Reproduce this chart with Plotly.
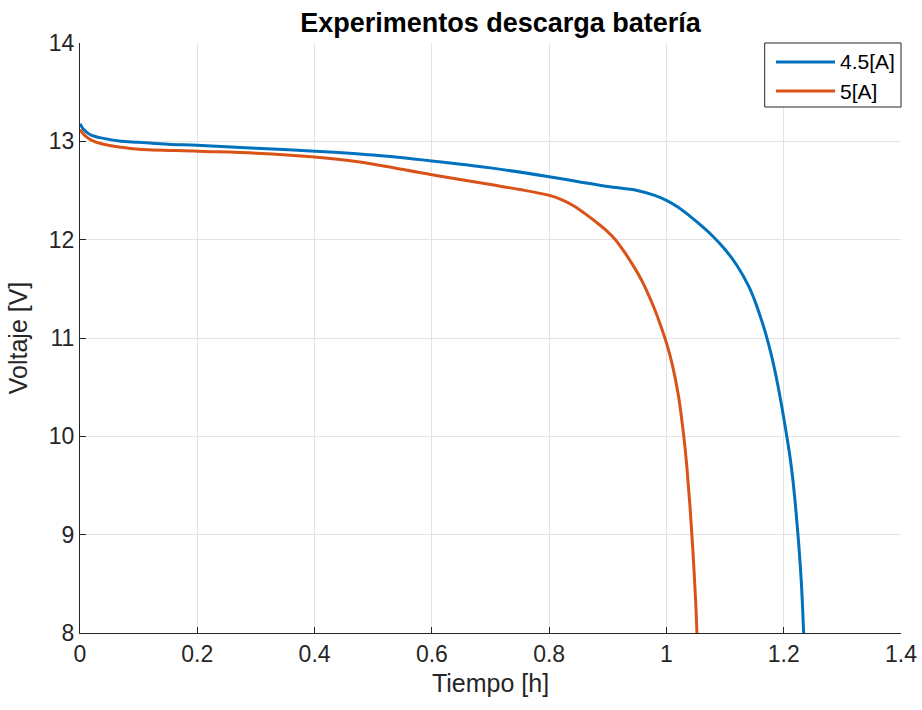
import plotly.graph_objects as go

# Discharge curves: time [h] vs voltage [V]
t_45 = [0, 0.005, 0.01, 0.02, 0.04, 0.07, 0.1, 0.15, 0.2, 0.3, 0.4, 0.5, 0.6, 0.7,
        0.8, 0.85, 0.9, 0.95, 0.98, 1.0, 1.02, 1.04, 1.06, 1.08, 1.1, 1.12, 1.14,
        1.15, 1.16, 1.17, 1.18, 1.19, 1.2, 1.21, 1.215, 1.22, 1.225, 1.23, 1.234]
v_45 = [13.18, 13.13, 13.1, 13.06, 13.03, 13.0, 12.99, 12.97, 12.96, 12.93, 12.90,
        12.86, 12.80, 12.73, 12.64, 12.59, 12.54, 12.50, 12.45, 12.40, 12.33, 12.24,
        12.14, 12.03, 11.90, 11.74, 11.53, 11.39, 11.22, 11.03, 10.80, 10.52, 10.19,
        9.82, 9.59, 9.30, 8.95, 8.52, 8.0]

t_5 = [0, 0.005, 0.01, 0.02, 0.04, 0.07, 0.1, 0.2, 0.3, 0.4, 0.477, 0.6, 0.7, 0.75,
       0.8, 0.82, 0.84, 0.86, 0.88, 0.9, 0.913, 0.93, 0.95, 0.96, 0.97, 0.98, 0.99,
       1.0, 1.01, 1.02, 1.03, 1.035, 1.04, 1.045, 1.05, 1.052]
v_5 = [13.12, 13.08, 13.05, 13.01, 12.97, 12.94, 12.92, 12.90, 12.88, 12.84, 12.79,
       12.66, 12.56, 12.51, 12.45, 12.41, 12.35, 12.27, 12.18, 12.08, 12.0, 11.86,
       11.67, 11.56, 11.43, 11.29, 11.13, 10.95, 10.73, 10.43, 9.98, 9.68, 9.30,
       8.85, 8.30, 8.0]

series_names = ["4.5[A]", "5[A]"]
series_colors = ["#0072BD", "#D95319"]

x_ticks = [0, 0.2, 0.4, 0.6, 0.8, 1, 1.2, 1.4]
x_tick_text = ["0", "0.2", "0.4", "0.6", "0.8", "1", "1.2", "1.4"]
y_ticks = [8, 9, 10, 11, 12, 13, 14]

FONT = "Liberation Sans, Arial, Helvetica, sans-serif"
AXIS_COLOR = "#262626"
GRID_COLOR = "#e3e3e3"

fig = go.Figure()
for (tx, vy), name, color in zip([(t_45, v_45), (t_5, v_5)], series_names, series_colors):
    fig.add_trace(go.Scatter(
        x=tx, y=vy, mode="lines", name=name,
        line=dict(color=color, width=3, shape="spline", smoothing=1.0),
        showlegend=False,
    ))

axis_common = dict(
    showgrid=True, gridcolor=GRID_COLOR, gridwidth=1,
    showline=True, linecolor=AXIS_COLOR, linewidth=1,
    ticks="inside", ticklen=6, tickcolor=AXIS_COLOR, tickwidth=1,
    tickfont=dict(family=FONT, size=23, color=AXIS_COLOR),
    zeroline=False, mirror=False, automargin=False,
)

fig.update_xaxes(
    range=[0, 1.4], tickvals=x_ticks, ticktext=x_tick_text,
    title=dict(text="Tiempo [h]", font=dict(family=FONT, size=25, color=AXIS_COLOR), standoff=8),
    **axis_common,
)
fig.update_yaxes(
    range=[8, 14], tickvals=y_ticks,
    title=dict(text="Voltaje [V]", font=dict(family=FONT, size=25, color=AXIS_COLOR), standoff=14),
    **axis_common,
)

# Legend box drawn in plot-area (paper) coordinates
shapes = [
    dict(type="rect", xref="paper", yref="paper", x0=0.834, x1=1.0, y0=0.8915, y1=1.0,
         line=dict(color=AXIS_COLOR, width=1), fillcolor="white", layer="above"),
]
annotations = []
legend_rows = [0.9678, 0.9186]
for name, color, yr in zip(series_names, series_colors, legend_rows):
    shapes.append(dict(type="line", xref="paper", yref="paper", x0=0.8477, x1=0.9196,
                       y0=yr, y1=yr, line=dict(color=color, width=3), layer="above"))
    annotations.append(dict(xref="paper", yref="paper", x=0.9233, y=yr, text=name,
                            showarrow=False, xanchor="left", yanchor="middle",
                            font=dict(family=FONT, size=21, color="#000000")))

fig.update_layout(
    width=922, height=710,
    margin=dict(l=80, r=21, t=43, b=77),
    paper_bgcolor="white", plot_bgcolor="white",
    title=dict(text="<b>Experimentos descarga batería</b>", x=0.5429, xanchor="center",
               y=0.968, yanchor="middle",
               font=dict(family=FONT, size=27, color="#000000")),
    shapes=shapes, annotations=annotations,
)

fig.write_html("out.html")
